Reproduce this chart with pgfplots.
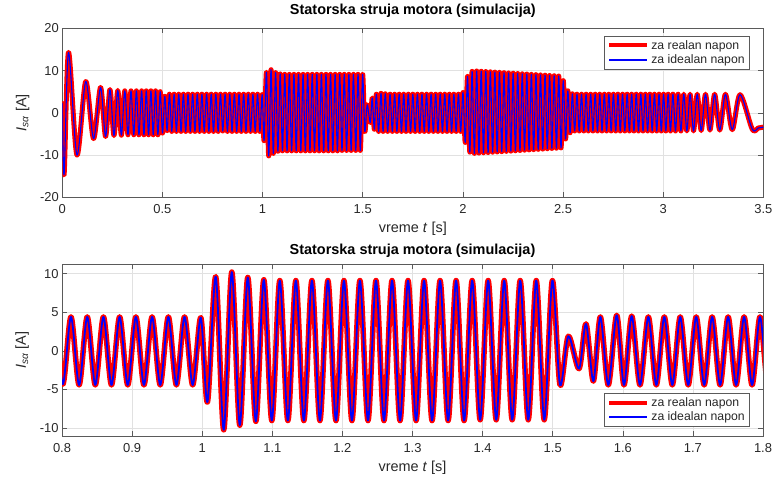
\documentclass[border=0pt]{standalone}
\usepackage{fontspec}
\setmainfont{Liberation Sans}
\usepackage{pgfplots}
\usepackage{pgfplotstable}
\pgfplotsset{compat=1.18}
\definecolor{axgray}{RGB}{90,90,90}
\definecolor{gridgray}{RGB}{225,225,225}
\definecolor{txtgray}{RGB}{40,40,40}
\definecolor{mred}{RGB}{255,0,0}
\definecolor{mblue}{RGB}{0,0,255}

\pgfplotstableread{
t v
0.0000 2.2
0.0090 -14.6
0.0310 14.3
0.0730 -10.0
0.1170 7.4
0.1560 -6.1
0.1910 6.0
0.2160 -5.6
0.2380 5.5
0.2580 -5.4
0.2770 5.3
0.2950 -5.3
0.3120 5.2
0.3280 -5.2
0.3430 5.2
0.3570 -5.2
0.3700 5.2
0.3825 -5.2
0.3960 5.2
0.4076 -5.2
0.4192 5.2
0.4308 -5.2
0.4424 5.2
0.4540 -5.2
0.4656 5.2
0.4772 -5.2
0.4888 5.0
0.5004 -4.8
0.5120 3.9
0.5235 -4.2
0.5351 4.4
0.5467 -4.4
0.5583 4.4
0.5698 -4.4
0.5814 4.4
0.5930 -4.4
0.6046 4.4
0.6161 -4.4
0.6277 4.4
0.6392 -4.4
0.6508 4.4
0.6624 -4.4
0.6740 4.4
0.6855 -4.4
0.6971 4.4
0.7087 -4.4
0.7203 4.4
0.7318 -4.4
0.7434 4.4
0.7549 -4.4
0.7665 4.4
0.7781 -4.4
0.7897 4.4
0.8012 -4.3
0.8128 4.4
0.8244 -4.4
0.8360 4.4
0.8475 -4.4
0.8591 4.4
0.8706 -4.4
0.8822 4.4
0.8938 -4.4
0.9054 4.4
0.9169 -4.4
0.9285 4.4
0.9401 -4.4
0.9517 4.4
0.9632 -4.4
0.9748 4.4
0.9864 -4.4
0.9980 4.3
1.0075 -6.6
1.0193 9.6
1.0307 -10.2
1.0422 10.2
1.0536 -9.6
1.0650 9.5
1.0765 -9.1
1.0879 9.2
1.0993 -9.0
1.1107 9.1
1.1222 -9.0
1.1336 9.1
1.1450 -9.0
1.1565 9.1
1.1679 -9.0
1.1793 9.1
1.1908 -9.0
1.2022 9.1
1.2136 -9.0
1.2250 9.1
1.2365 -9.0
1.2479 9.1
1.2593 -9.0
1.2708 9.1
1.2822 -9.0
1.2936 9.1
1.3051 -9.0
1.3165 9.1
1.3279 -9.0
1.3393 9.1
1.3508 -9.0
1.3622 9.1
1.3736 -9.0
1.3851 9.1
1.3965 -8.9
1.4079 9.1
1.4194 -8.9
1.4308 9.1
1.4422 -8.9
1.4536 9.1
1.4651 -8.9
1.4765 9.1
1.4879 -8.9
1.4994 9.1
1.5104 -4.4
1.5223 1.9
1.5375 -2.3
1.5475 3.5
1.5580 -3.9
1.5680 4.4
1.5793 -4.4
1.5913 4.6
1.6017 -4.4
1.6127 4.5
1.6245 -4.4
1.6364 4.4
1.6478 -4.4
1.6592 4.4
1.6706 -4.4
1.6819 4.4
1.6933 -4.4
1.7047 4.4
1.7161 -4.4
1.7274 4.4
1.7388 -4.4
1.7502 4.4
1.7616 -4.4
1.7730 4.4
1.7844 -4.4
1.7957 4.4
1.8071 -4.4
1.8185 4.4
1.8299 -4.4
1.8412 4.4
1.8526 -4.4
1.8640 4.4
1.8754 -4.4
1.8868 4.4
1.8981 -4.4
1.9095 4.4
1.9209 -4.4
1.9323 4.4
1.9437 -4.4
1.9550 4.4
1.9664 -4.4
1.9778 4.4
1.9892 -4.4
2.0006 4.8
2.0120 -7.0
2.0234 8.6
2.0348 -9.3
2.0461 9.8
2.0575 -9.6
2.0689 9.9
2.0803 -9.53
2.0916 9.83
2.1030 -9.46
2.1144 9.77
2.1258 -9.40
2.1372 9.70
2.1486 -9.33
2.1599 9.63
2.1713 -9.26
2.1827 9.57
2.1941 -9.19
2.2054 9.50
2.2168 -9.12
2.2282 9.43
2.2396 -9.06
2.2510 9.37
2.2624 -8.99
2.2737 9.30
2.2851 -8.92
2.2965 9.23
2.3079 -8.85
2.3192 9.17
2.3306 -8.78
2.3420 9.10
2.3534 -8.72
2.3648 9.03
2.3762 -8.65
2.3875 8.97
2.3989 -8.58
2.4103 8.90
2.4217 -8.51
2.4330 8.83
2.4444 -8.44
2.4558 8.77
2.4672 -8.38
2.4786 8.70
2.4900 -8.30
2.5013 7.6
2.5127 -6.2
2.5241 5.2
2.5355 -4.7
2.5468 4.5
2.5582 -4.3
2.5696 4.4
2.5810 -4.3
2.5924 4.4
2.6038 -4.3
2.6151 4.4
2.6265 -4.3
2.6379 4.4
2.6493 -4.3
2.6606 4.4
2.6720 -4.3
2.6834 4.4
2.6948 -4.3
2.7062 4.4
2.7176 -4.3
2.7289 4.4
2.7403 -4.3
2.7517 4.4
2.7631 -4.3
2.7744 4.4
2.7858 -4.3
2.7972 4.4
2.8086 -4.3
2.8200 4.4
2.8314 -4.3
2.8427 4.4
2.8541 -4.3
2.8655 4.4
2.8769 -4.3
2.8882 4.4
2.8996 -4.3
2.9110 4.4
2.9224 -4.3
2.9338 4.4
2.9452 -4.3
2.9565 4.4
2.9679 -4.3
2.9793 4.4
2.9907 -4.3
3.0020 4.4
3.0134 -4.3
3.0248 4.4
3.0366 -4.3
3.0488 4.4
3.0615 -4.3
3.0747 4.4
3.0885 -4.3
3.1030 4.4
3.1183 -4.3
3.1345 4.4
3.1517 -4.3
3.1701 4.4
3.1899 -4.2
3.2114 4.4
3.2335 -4.1
3.2570 4.4
3.2825 -4.1
3.3110 4.4
3.3450 -4.0
3.3840 4.3
3.4450 -3.9
3.4750 -3.6
3.5000 -3.4
}\datatab

\pgfplotsset{
  mstyle/.style={
    scale only axis,
    axis line style={axgray, line width=0.7bp},
    grid=major,
    major grid style={gridgray, line width=0.6bp},
    tick style={axgray, line width=0.6bp},
    tick align=inside,
    major tick length=5bp,
    /pgf/number format/assume math mode=true,
    ticklabel style={font=\fontsize{13}{15}\selectfont, text=txtgray},
    xticklabel style={yshift=-4bp},
    label style={font=\fontsize{14.5}{17}\selectfont, text=txtgray},
    xlabel style={at={(axis description cs:0.5,0)}, anchor=base, yshift=-35bp},
    ylabel style={at={(axis description cs:-0.0514,0.5)}, anchor=base},
    title style={font=\bfseries\fontsize{14.5}{17}\selectfont, text=black, at={(axis description cs:0.5,1)}, anchor=base},
    legend cell align=left,
    legend image code/.code={\draw[##1] (0bp,0bp) -- (38bp,0bp);},
    legend style={draw=axgray, fill=white, line width=0.6bp,
      font=\fontsize{12.3}{14}\selectfont, text=txtgray,
      inner xsep=3bp, inner ysep=2bp, row sep=0bp},
  },
  redT/.style={mred, line width=5bp, line join=round, line cap=round, smooth, forget plot},
  blueT/.style={mblue, line width=1.1bp, line join=round, line cap=round, smooth, forget plot},
  redB/.style={mred, line width=5.5bp, line join=round, line cap=round, smooth, forget plot},
  blueB/.style={mblue, line width=1.8bp, line join=round, line cap=round, smooth, forget plot},
}

\begin{document}
\begin{tikzpicture}
\useasboundingbox (0,0) rectangle (774bp,-481bp);

\begin{axis}[mstyle,
  at={(62.3bp,-28.3bp)}, anchor=north west,
  width=701bp, height=169bp,
  xmin=0, xmax=3.5, ymin=-20, ymax=20,
  xtick={0,0.5,1,1.5,2,2.5,3,3.5},
  ytick={-20,-10,0,10,20},
  title={Statorska struja motora (simulacija)},
  title style={yshift=7.5bp},
  xlabel={vreme \textit{t} [s]},
  ylabel={\textit{I}\textsubscript{\textit{sα}} [A]},
  legend style={at={(axis description cs:1,1)}, anchor=north east, xshift=-13.3bp, yshift=-7.7bp},
]
\addplot[redT] table[x=t, y=v] {\datatab};
\addplot[blueT] table[x=t, y=v] {\datatab};
\addlegendimage{mred, line width=4bp}
\addlegendentry{za realan napon}
\addlegendimage{mblue, line width=1.5bp}
\addlegendentry{za idealan napon}
\end{axis}

\begin{axis}[mstyle,
  at={(62bp,-264.3bp)}, anchor=north west,
  width=701bp, height=171.7bp,
  xmin=0.8, xmax=1.8, ymin=-11, ymax=11.2,
  xtick={0.8,0.9,1,1.1,1.2,1.3,1.4,1.5,1.6,1.7,1.8},
  ytick={-10,-5,0,5,10},
  title={Statorska struja motora (simulacija)},
  title style={yshift=4bp},
  xlabel={vreme \textit{t} [s]},
  ylabel={\textit{I}\textsubscript{\textit{sα}} [A]},
  legend style={at={(axis description cs:1,0)}, anchor=south east, xshift=-13bp, yshift=9.3bp},
]
\addplot[redB] table[x=t, y=v] {\datatab};
\addplot[blueB] table[x=t, y=v] {\datatab};
\addlegendimage{mred, line width=4bp}
\addlegendentry{za realan napon}
\addlegendimage{mblue, line width=1.5bp}
\addlegendentry{za idealan napon}
\end{axis}
\end{tikzpicture}
\end{document}
